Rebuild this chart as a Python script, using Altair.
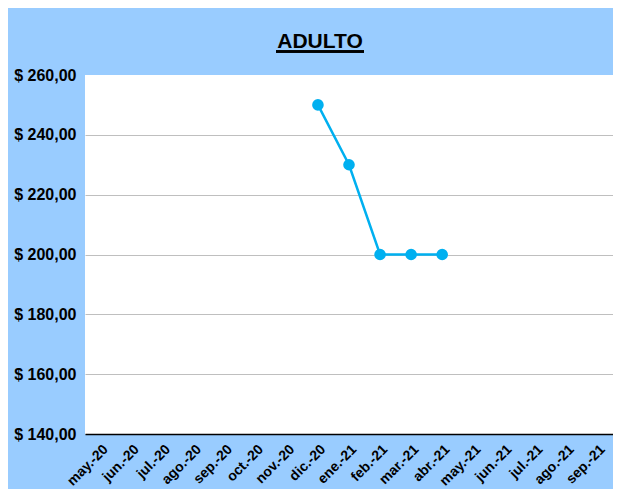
import altair as alt
import pandas as pd

months = ["may.-20", "jun.-20", "jul.-20", "ago.-20", "sep.-20", "oct.-20", "nov.-20",
          "dic.-20", "ene.-21", "feb.-21", "mar.-21", "abr.-21", "may.-21", "jun.-21",
          "jul.-21", "ago.-21", "sep.-21"]
price_months = ["dic.-20", "ene.-21", "feb.-21", "mar.-21", "abr.-21"]
prices = [250, 230, 200, 200, 200]
y_ticks = [140, 160, 180, 200, 220, 240, 260]

df = pd.DataFrame({"mes": price_months, "precio": prices})

FONT = "Liberation Sans"
BLUE = "#00B0F0"

x_enc = alt.X("mes:N", sort=months, scale=alt.Scale(domain=months),
              axis=alt.Axis(title=None, labelAngle=-45, labelAlign="right", labelBaseline="top",
                            labelFont=FONT, labelFontSize=14, labelFontWeight="bold",
                            labelColor="black", ticks=False, domainColor="black",
                            domainWidth=1.5, labelPadding=8, labelOffset=0, grid=False))
y_enc = alt.Y("precio:Q", scale=alt.Scale(domain=[140, 260], nice=False, zero=False),
              axis=alt.Axis(title=None, values=y_ticks,
                            labelExpr="'$ ' + replace(format(datum.value, '.2f'), '.', ',')",
                            labelFont=FONT, labelFontSize=16, labelFontWeight="bold",
                            labelColor="black", ticks=False, domain=False, labelPadding=9,
                            gridColor={"condition": {"test": "datum.value == 260", "value": "white"},
                                       "value": "#BFBFBF"},
                            gridWidth=1.2))

line = alt.Chart(df).mark_line(color=BLUE, strokeWidth=2.5).encode(x=x_enc, y=y_enc)
pts = alt.Chart(df).mark_circle(color=BLUE, size=135, opacity=1).encode(x=x_enc, y=y_enc)
underline = alt.Chart(df).mark_rule(color="black", strokeWidth=2).encode(
    x=alt.value(191), x2=alt.value(279), y=alt.value(-23.5))

chart = alt.layer(line, pts, underline).properties(
    width=528, height=359,
    title=alt.TitleParams("ADULTO", font=FONT, fontSize=21, fontWeight="bold", color="black",
                          anchor="middle", frame="group", dx=-29, offset=-1),
    background="#99CCFF",
    padding={"left": 77, "top": 67, "right": 0, "bottom": 55},
    autosize=alt.AutoSizeParams(type="none"),
).configure_view(fill="white", stroke=None)

chart.save("out.html", embed_options={"renderer": "svg", "actions": False})
